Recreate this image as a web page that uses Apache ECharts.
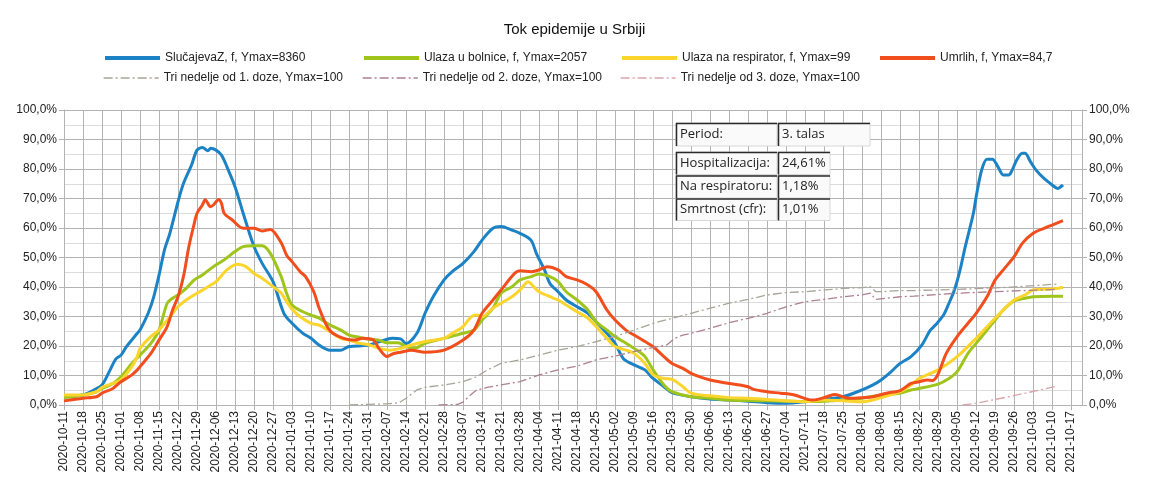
<!DOCTYPE html>
<html>
<head>
<meta charset="utf-8">
<script src="https://cdn.jsdelivr.net/npm/echarts@6/dist/echarts.min.js"></script>
<style>
html,body{margin:0;padding:0;background:#fff;}
#chart{width:1149px;height:488px;}
</style>
</head>
<body>
<div id="chart"></div>
<script>
// ---- DATA (percent of each series' Ymax) ----
const startDate = '2020-10-11';
const endDate = '2021-10-21';

const seriesNames = [
  'SlučajevaZ, f, Ymax=8360',
  'Ulaza u bolnice, f, Ymax=2057',
  'Ulaza na respirator, f, Ymax=99',
  'Umrlih, f, Ymax=84,7',
  'Tri nedelje od 1. doze, Ymax=100',
  'Tri nedelje od 2. doze, Ymax=100',
  'Tri nedelje od 3. doze, Ymax=100'
];

const casesData = [['2020-10-11',3.0],['2020-10-18',3.4],['2020-10-22',5.1],['2020-10-25',6.8],['2020-10-28',11.9],['2020-10-30',15.5],['2020-11-01',16.9],['2020-11-03',19.8],['2020-11-07',24.3],['2020-11-08',25.4],['2020-11-11',31.1],['2020-11-13',36.5],['2020-11-15',44.0],['2020-11-17',52.5],['2020-11-19',58.2],['2020-11-22',68.9],['2020-11-24',75.1],['2020-11-27',81.4],['2020-11-29',86.4],['2020-12-01',87.3],['2020-12-03',86.2],['2020-12-04',87.0],['2020-12-06',86.4],['2020-12-08',84.7],['2020-12-10',80.8],['2020-12-13',74.0],['2020-12-16',65.0],['2020-12-20',53.7],['2020-12-23',48.0],['2020-12-27',41.8],['2020-12-31',31.1],['2021-01-03',27.7],['2021-01-07',24.3],['2021-01-10',22.6],['2021-01-13',20.3],['2021-01-17',18.6],['2021-01-21',18.6],['2021-01-24',19.8],['2021-01-31',20.3],['2021-02-07',22.3],['2021-02-09',22.6],['2021-02-12',22.4],['2021-02-14',20.8],['2021-02-18',24.3],['2021-02-21',31.1],['2021-02-24',36.7],['2021-02-28',42.4],['2021-03-03',45.2],['2021-03-07',48.0],['2021-03-11',52.0],['2021-03-14',55.9],['2021-03-18',59.9],['2021-03-21',60.5],['2021-03-25',59.3],['2021-03-28',58.2],['2021-04-01',55.9],['2021-04-03',51.4],['2021-04-06',45.8],['2021-04-08',41.2],['2021-04-11',38.4],['2021-04-14',35.6],['2021-04-18',33.3],['2021-04-22',31.1],['2021-04-25',28.2],['2021-04-29',24.3],['2021-05-02',20.9],['2021-05-05',15.8],['2021-05-09',13.6],['2021-05-13',11.9],['2021-05-16',9.0],['2021-05-20',6.2],['2021-05-23',4.2],['2021-05-30',2.8],['2021-06-06',2.0],['2021-06-13',1.7],['2021-06-20',1.3],['2021-06-27',0.8],['2021-07-04',0.6],['2021-07-11',1.1],['2021-07-18',1.9],['2021-07-25',2.8],['2021-08-01',5.1],['2021-08-05',6.8],['2021-08-08',8.5],['2021-08-11',10.7],['2021-08-15',14.1],['2021-08-19',16.4],['2021-08-23',20.3],['2021-08-26',25.2],['2021-08-28',27.1],['2021-08-31',30.5],['2021-09-02',34.5],['2021-09-04',39.0],['2021-09-06',45.5],['2021-09-08',53.7],['2021-09-11',65.0],['2021-09-12',70.5],['2021-09-14',79.5],['2021-09-16',83.3],['2021-09-18',83.3],['2021-09-20',80.8],['2021-09-22',78.0],['2021-09-24',78.0],['2021-09-25',79.1],['2021-09-27',83.1],['2021-09-29',85.3],['2021-09-30',85.3],['2021-10-02',82.5],['2021-10-04',79.7],['2021-10-07',76.8],['2021-10-10',74.6],['2021-10-12',73.4],['2021-10-14',74.6]];

const hospData = [['2020-10-11',2.5],['2020-10-18',3.4],['2020-10-23',4.5],['2020-10-25',5.6],['2020-10-29',7.3],['2020-11-01',9.6],['2020-11-05',14.1],['2020-11-08',16.9],['2020-11-12',20.9],['2020-11-15',25.4],['2020-11-18',34.5],['2020-11-20',36.2],['2020-11-22',37.3],['2020-11-25',39.5],['2020-11-28',42.4],['2020-12-01',44.1],['2020-12-05',46.9],['2020-12-09',49.2],['2020-12-13',52.0],['2020-12-16',53.7],['2020-12-20',54.0],['2020-12-23',54.0],['2020-12-26',51.4],['2020-12-30',43.5],['2021-01-01',37.9],['2021-01-03',33.9],['2021-01-07',31.6],['2021-01-10',30.5],['2021-01-13',29.4],['2021-01-17',27.1],['2021-01-21',25.4],['2021-01-24',23.7],['2021-01-28',22.9],['2021-01-31',22.3],['2021-02-04',22.0],['2021-02-07',21.1],['2021-02-11',21.1],['2021-02-14',19.8],['2021-02-17',19.2],['2021-02-21',20.9],['2021-02-28',22.6],['2021-03-07',24.3],['2021-03-11',25.4],['2021-03-14',28.8],['2021-03-18',32.8],['2021-03-21',37.9],['2021-03-25',40.1],['2021-03-28',42.4],['2021-04-01',43.5],['2021-04-04',44.4],['2021-04-08',43.5],['2021-04-11',41.8],['2021-04-14',38.4],['2021-04-18',35.6],['2021-04-22',32.2],['2021-04-25',28.2],['2021-04-29',25.4],['2021-05-02',23.2],['2021-05-05',21.5],['2021-05-09',19.2],['2021-05-13',16.4],['2021-05-16',11.9],['2021-05-20',6.8],['2021-05-23',4.5],['2021-05-30',2.8],['2021-06-06',2.3],['2021-06-13',1.7],['2021-06-20',1.5],['2021-06-27',1.4],['2021-07-04',1.3],['2021-07-11',1.2],['2021-07-18',1.3],['2021-07-25',1.7],['2021-08-01',2.3],['2021-08-08',3.4],['2021-08-15',4.0],['2021-08-19',5.1],['2021-08-22',5.6],['2021-08-29',7.1],['2021-09-02',9.0],['2021-09-05',11.3],['2021-09-09',17.5],['2021-09-12',20.9],['2021-09-16',25.4],['2021-09-19',28.8],['2021-09-22',32.2],['2021-09-26',35.3],['2021-09-30',36.2],['2021-10-03',36.7],['2021-10-10',36.9],['2021-10-14',36.9]];

const ventData = [['2020-10-11',3.4],['2020-10-18',3.4],['2020-10-23',4.5],['2020-10-25',6.0],['2020-10-29',7.3],['2020-11-01',8.5],['2020-11-05',13.0],['2020-11-07',16.4],['2020-11-08',19.2],['2020-11-12',23.2],['2020-11-15',25.4],['2020-11-19',29.9],['2020-11-22',33.3],['2020-11-25',35.6],['2020-11-29',37.9],['2020-12-02',39.5],['2020-12-06',41.8],['2020-12-10',45.8],['2020-12-14',47.7],['2020-12-17',46.9],['2020-12-20',44.6],['2020-12-23',43.0],['2020-12-27',40.1],['2020-12-30',38.0],['2021-01-01',35.0],['2021-01-03',32.5],['2021-01-06',29.9],['2021-01-10',27.7],['2021-01-13',27.1],['2021-01-17',24.9],['2021-01-21',22.6],['2021-01-24',22.0],['2021-01-28',20.9],['2021-01-31',20.5],['2021-02-04',19.2],['2021-02-08',18.6],['2021-02-12',19.2],['2021-02-14',19.8],['2021-02-21',21.5],['2021-02-28',22.6],['2021-03-03',24.3],['2021-03-07',26.6],['2021-03-10',29.9],['2021-03-12',30.5],['2021-03-14',29.9],['2021-03-18',32.8],['2021-03-21',34.5],['2021-03-25',36.7],['2021-03-28',39.0],['2021-03-31',41.8],['2021-04-02',40.1],['2021-04-04',38.4],['2021-04-08',36.7],['2021-04-11',35.6],['2021-04-14',33.9],['2021-04-18',31.6],['2021-04-22',29.4],['2021-04-25',26.6],['2021-04-29',22.6],['2021-05-02',19.8],['2021-05-06',18.6],['2021-05-09',17.5],['2021-05-13',14.1],['2021-05-16',10.2],['2021-05-20',9.0],['2021-05-23',8.7],['2021-05-27',6.2],['2021-05-30',4.0],['2021-06-06',3.1],['2021-06-13',2.5],['2021-06-20',2.3],['2021-06-27',1.9],['2021-07-04',1.4],['2021-07-11',1.1],['2021-07-18',1.7],['2021-07-25',1.4],['2021-08-01',1.1],['2021-08-05',1.7],['2021-08-08',2.5],['2021-08-15',4.5],['2021-08-19',6.8],['2021-08-22',9.0],['2021-08-29',11.9],['2021-09-05',16.4],['2021-09-12',22.6],['2021-09-19',29.4],['2021-09-26',35.6],['2021-09-30',37.3],['2021-10-03',39.0],['2021-10-10',39.3],['2021-10-14',39.9]];

const deathsData = [['2020-10-11',1.4],['2020-10-18',2.3],['2020-10-23',2.8],['2020-10-25',4.0],['2020-10-29',5.6],['2020-11-01',7.9],['2020-11-05',10.2],['2020-11-07',11.9],['2020-11-08',13.0],['2020-11-12',17.5],['2020-11-15',22.0],['2020-11-18',26.6],['2020-11-20',32.2],['2020-11-22',36.7],['2020-11-24',43.5],['2020-11-26',53.7],['2020-11-28',61.6],['2020-11-29',65.0],['2020-12-01',67.8],['2020-12-02',69.6],['2020-12-04',67.2],['2020-12-05',67.8],['2020-12-07',69.7],['2020-12-08',68.4],['2020-12-09',65.0],['2020-12-12',62.7],['2020-12-16',59.9],['2020-12-20',59.9],['2020-12-23',59.0],['2020-12-26',59.5],['2020-12-30',55.0],['2021-01-01',50.8],['2021-01-03',48.6],['2021-01-06',45.2],['2021-01-08',43.5],['2021-01-11',38.4],['2021-01-13',32.8],['2021-01-16',26.5],['2021-01-18',24.3],['2021-01-22',22.6],['2021-01-26',22.0],['2021-01-29',22.6],['2021-02-02',22.0],['2021-02-04',19.2],['2021-02-07',16.4],['2021-02-09',17.3],['2021-02-12',17.9],['2021-02-16',18.6],['2021-02-21',17.9],['2021-02-28',18.6],['2021-03-07',22.0],['2021-03-11',25.4],['2021-03-14',31.1],['2021-03-18',35.6],['2021-03-21',39.0],['2021-03-26',44.6],['2021-03-28',45.5],['2021-04-01',45.2],['2021-04-04',45.8],['2021-04-07',46.9],['2021-04-11',45.8],['2021-04-14',43.5],['2021-04-18',42.4],['2021-04-22',40.7],['2021-04-25',38.4],['2021-04-29',32.2],['2021-05-02',28.8],['2021-05-06',25.4],['2021-05-09',23.7],['2021-05-13',21.5],['2021-05-16',19.8],['2021-05-20',16.4],['2021-05-23',14.1],['2021-05-27',12.4],['2021-05-30',10.7],['2021-06-02',9.6],['2021-06-06',8.5],['2021-06-13',7.3],['2021-06-17',6.8],['2021-06-20',6.2],['2021-06-22',5.3],['2021-06-27',4.5],['2021-07-02',4.0],['2021-07-07',3.4],['2021-07-12',1.9],['2021-07-14',1.7],['2021-07-19',2.8],['2021-07-22',3.6],['2021-07-27',2.3],['2021-08-01',2.5],['2021-08-05',2.8],['2021-08-10',4.0],['2021-08-15',4.9],['2021-08-19',7.3],['2021-08-22',7.9],['2021-08-25',8.5],['2021-08-27',8.3],['2021-08-29',10.5],['2021-09-01',17.5],['2021-09-05',23.2],['2021-09-09',27.7],['2021-09-12',31.1],['2021-09-16',36.7],['2021-09-19',42.4],['2021-09-22',45.8],['2021-09-26',50.3],['2021-09-29',54.8],['2021-10-03',58.2],['2021-10-07',59.9],['2021-10-10',61.0],['2021-10-14',62.5]];

const dose1Data = [['2021-01-24',0.0],['2021-01-31',0.2],['2021-02-07',0.4],['2021-02-10',0.6],['2021-02-12',1.1],['2021-02-14',2.3],['2021-02-18',5.1],['2021-02-21',6.0],['2021-02-28',6.8],['2021-03-07',7.9],['2021-03-12',9.6],['2021-03-16',11.9],['2021-03-21',14.1],['2021-03-28',15.3],['2021-04-04',16.9],['2021-04-11',18.6],['2021-04-18',19.8],['2021-04-25',21.5],['2021-05-02',23.2],['2021-05-09',25.4],['2021-05-16',27.7],['2021-05-23',29.4],['2021-05-30',31.1],['2021-06-06',32.8],['2021-06-13',34.5],['2021-06-20',35.8],['2021-06-27',37.3],['2021-07-04',38.1],['2021-07-11',38.4],['2021-07-18',39.0],['2021-07-25',39.5],['2021-08-01',39.8],['2021-08-04',40.1],['2021-08-06',38.4],['2021-08-08',38.4],['2021-08-15',38.8],['2021-08-20',38.8],['2021-09-05',39.2],['2021-09-24',39.9],['2021-10-12',41.0]];

const dose2Data = [['2021-02-26',0.0],['2021-03-05',0.2],['2021-03-07',1.0],['2021-03-09',2.8],['2021-03-12',5.1],['2021-03-16',6.0],['2021-03-21',6.8],['2021-03-28',7.9],['2021-04-04',10.2],['2021-04-11',11.9],['2021-04-18',13.2],['2021-04-25',15.3],['2021-05-02',16.6],['2021-05-09',18.1],['2021-05-16',19.5],['2021-05-21',20.3],['2021-05-24',22.6],['2021-05-27',23.7],['2021-05-30',24.3],['2021-06-06',26.0],['2021-06-13',27.9],['2021-06-20',29.4],['2021-06-27',31.1],['2021-07-04',33.3],['2021-07-11',35.0],['2021-07-18',35.8],['2021-07-25',36.7],['2021-08-01',37.3],['2021-08-04',37.9],['2021-08-06',35.8],['2021-08-15',36.7],['2021-08-20',36.9],['2021-09-05',37.9],['2021-09-24',38.6],['2021-10-12',39.2]];

const dose3Data = [['2021-09-07',0.0],['2021-09-12',0.6],['2021-09-24',2.8],['2021-10-12',6.4]];

const tableRows = [
  ['Period:', '3. talas'],
  ['Hospitalizacija:', '24,61%'],
  ['Na respiratoru:', '1,18%'],
  ['Smrtnost (cfr):', '1,01%']
];

// ---- categories: every day on the axis ----
const categories = [];
(function () {
  const s = new Date(startDate + 'T00:00:00Z'), e = new Date(endDate + 'T00:00:00Z');
  for (let d = s; d <= e; d = new Date(d.getTime() + 86400000)) {
    categories.push(d.toISOString().slice(0, 10));
  }
})();

const colors = ['#1b82c5', '#9fc51c', '#fbd42c', '#f24d1d', '#a9a497', '#ae8190', '#d9a4ab'];
const allData = [casesData, hospData, ventData, deathsData, dose1Data, dose2Data, dose3Data];

const FONT = '"Liberation Sans", Arial, sans-serif';
const pctFmt = v => v.toFixed(1).replace('.', ',') + '%';

const series = allData.map((d, i) => {
  const main = i < 4;
  return {
    name: seriesNames[i],
    type: 'line',
    data: d,
    showSymbol: false,
    symbol: 'none',
    smooth: main ? 0.3 : false,
    z: 2 + i,
    lineStyle: main
      ? { color: colors[i], width: 3 }
      : { color: colors[i], width: 1.3, type: [9, 3, 2, 3] },
    itemStyle: { color: colors[i] }
  };
});

const legendCols = [103, 362, 620, 878];
const legends = seriesNames.map((n, i) => ({
  data: [n],
  left: legendCols[i % 4],
  top: i < 4 ? 52 : 72,
  padding: 0,
  itemWidth: 55,
  itemHeight: 14,
  selectedMode: false,
  itemStyle: { opacity: 0 },
  lineStyle: { width: i < 4 ? 4 : 1.3 },
  textStyle: { fontFamily: FONT, fontSize: 12, color: '#222' }
}));

// table graphic
const graphics = [];
const rowTops = [123, 152, 175.5, 198.5];
const rowH = [23, 22.5, 22.5, 22];
const c1x = 676, c1w = 101, c2x = 778;
const c2w = [92, 52, 52, 52];
tableRows.forEach((r, i) => {
  const y = rowTops[i], h = rowH[i];
  [[c1x, c1w, r[0]], [c2x, c2w[i], r[1]]].forEach(([x, w, t]) => {
    graphics.push({ type: 'rect', shape: { x: x, y: y, width: w, height: h },
      style: { fill: '#fafafa', stroke: '#d8d8d8', lineWidth: 1 }, z: 100 });
    graphics.push({ type: 'polyline', shape: { points: [[x + 0.5, y + h], [x + 0.5, y + 0.5], [x + w, y + 0.5]] },
      style: { stroke: '#2a2a2a', lineWidth: 1.5, fill: null }, z: 101 });
    graphics.push({ type: 'text', x: x + 4, y: y + h / 2, z: 102,
      style: { text: t, fill: '#222', font: '13px "Open Sans", "Noto Sans", sans-serif', verticalAlign: 'middle', textAlign: 'left' } });
  });
});

const yAxisBase = {
  type: 'value', min: 0, max: 100, interval: 10,
  axisLine: { show: true, lineStyle: { color: '#b3b3b3' } },
  axisTick: { show: true, length: 5, lineStyle: { color: '#b3b3b3' } },
  minorTick: { show: false, splitNumber: 2 },
  axisLabel: { formatter: pctFmt, fontFamily: FONT, fontSize: 12, color: '#222', margin: 7 }
};

const option = {
  animation: false,
  backgroundColor: '#fff',
  title: { text: 'Tok epidemije u Srbiji', left: 'center', top: 17,
    textStyle: { fontFamily: FONT, fontSize: 15, fontWeight: 'normal', color: '#111' } },
  legend: legends,
  grid: { left: 64, right: 67, top: 110, bottom: 83, containLabel: false },
  xAxis: {
    type: 'category', data: categories, boundaryGap: false,
    axisLine: { show: true, lineStyle: { color: '#b3b3b3' } },
    axisTick: { show: true, interval: 6, length: 5, lineStyle: { color: '#b3b3b3' } },
    splitLine: { show: true, interval: 6, lineStyle: { color: '#b3b3b3', width: 1 } },
    axisLabel: { interval: 6, rotate: 90, margin: 6, fontFamily: FONT, fontSize: 12, color: '#222' }
  },
  yAxis: [
    Object.assign({}, yAxisBase, { position: 'left',
      splitLine: { show: true, lineStyle: { color: '#b3b3b3' } },
      minorSplitLine: { show: true, lineStyle: { color: '#dcdcdc' } } }),
    Object.assign({}, yAxisBase, { position: 'right', splitLine: { show: false } })
  ],
  series: series,
  graphic: graphics
};

const chart = echarts.init(document.getElementById('chart'), null, { renderer: 'canvas' });
chart.setOption(option);
</script>
</body>
</html>
